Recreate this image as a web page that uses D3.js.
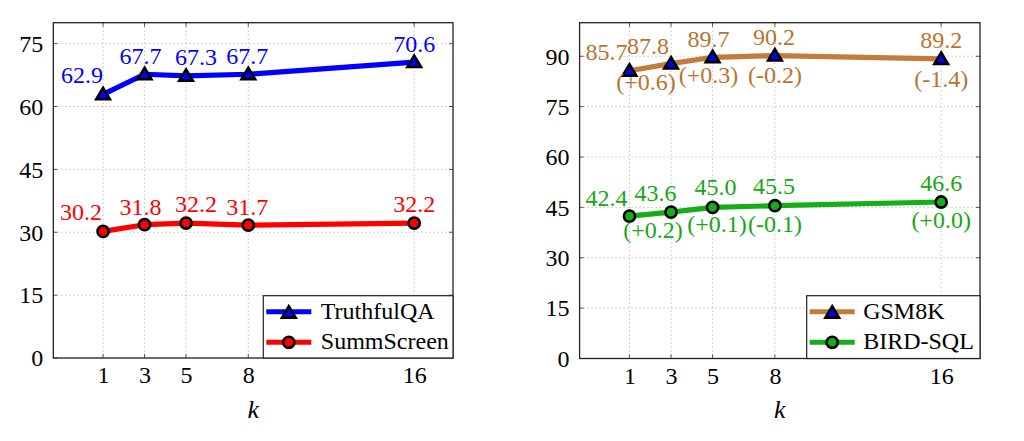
<!DOCTYPE html>
<html><head><meta charset="utf-8">
<script src="https://cdn.jsdelivr.net/npm/d3@7"></script>
<style>
html,body{margin:0;padding:0;background:#fff;}
svg text{font-family:"Liberation Serif","LiberationSerif","Tinos","Times New Roman","DejaVu Serif",serif !important;}
</style></head>
<body>
<svg id="chart" width="1024" height="441"></svg>
<script>
// ---- data ----
const kValues = [1, 3, 5, 8, 16];
const xTickLabels = ["1", "3", "5", "8", "16"];
const leftYTicks = [0, 15, 30, 45, 60, 75];
const rightYTicks = [0, 15, 30, 45, 60, 75, 90];
const truthfulQA = [62.9, 67.7, 67.3, 67.7, 70.6];
const summScreen = [30.2, 31.8, 32.2, 31.7, 32.2];
const gsm8k = [85.7, 87.8, 89.7, 90.2, 89.2];
const gsm8kDelta = [null, "(+0.6)", "(+0.3)", "(-0.2)", "(-1.4)"];
const birdSQL = [42.4, 43.6, 45.0, 45.5, 46.6];
const birdDelta = [null, "(+0.2)", "(+0.1)", "(-0.1)", "(+0.0)"];

// ---- style (label nudges, pixels) ----
const FONT = 24;
const nudgeLeftA = [[-21,-11],[-4,-10],[10,-11],[-1,-10],[0,-10]];
const nudgeLeftB = [[-22,-11],[-4,-10],[10,-11],[-1,-10],[0,-11]];
const nudgeRightA = [[-23,-10.5],[-23,-10],[-4,-10.5],[-1,-10.5],[0,-10.5]];
const nudgeRightB = [[-23,-10],[-15.5,-11.5],[3,-12],[-1,-11.5],[0,-11.5]];
const deltaNudgeA = [null,[-25,26],[-4,26],[0,27],[0,28]];
const deltaNudgeB = [null,[-18,26],[4.5,25],[0,26],[0,26]];

const svg = d3.select("#chart");

function triangle(g, cx, cy, fill) {
  const s = 6.5;
  g.append("path")
    .attr("d", `M${cx},${cy - s} L${cx + s * 1.05},${cy + s * 0.75} L${cx - s * 1.05},${cy + s * 0.75} Z`)
    .attr("fill", fill).attr("stroke", "#000").attr("stroke-width", 2.6)
    .attr("stroke-linejoin", "miter");
}
function circle(g, cx, cy, fill) {
  g.append("circle").attr("cx", cx).attr("cy", cy).attr("r", 5.6)
    .attr("fill", fill).attr("stroke", "#000").attr("stroke-width", 2.6);
}

function panel(cfg) {
  const g = svg.append("g");
  const x = d3.scaleLinear().domain([-1.4, 17.87]).range([cfg.left, cfg.right]);
  const y = d3.scaleLinear().domain([0, cfg.ymax]).range([cfg.bottom, cfg.top]);

  // grid
  const grid = g.append("g").attr("stroke", "#a8a8a8").attr("stroke-width", 1)
    .attr("stroke-dasharray", "1,3");
  kValues.forEach(k => grid.append("line").attr("x1", x(k)).attr("x2", x(k))
    .attr("y1", cfg.top).attr("y2", cfg.bottom));
  cfg.yTicks.forEach(v => grid.append("line").attr("x1", cfg.left).attr("x2", cfg.right)
    .attr("y1", y(v)).attr("y2", y(v)));

  // tick marks inside the frame
  const tk = g.append("g").attr("stroke", "#444").attr("stroke-width", 0.9);
  kValues.forEach(k => {
    tk.append("line").attr("x1", x(k)).attr("x2", x(k)).attr("y1", cfg.bottom).attr("y2", cfg.bottom - 4);
    tk.append("line").attr("x1", x(k)).attr("x2", x(k)).attr("y1", cfg.top).attr("y2", cfg.top + 4);
  });
  cfg.yTicks.forEach(v => {
    tk.append("line").attr("x1", cfg.left).attr("x2", cfg.left + 4).attr("y1", y(v)).attr("y2", y(v));
    tk.append("line").attr("x1", cfg.right).attr("x2", cfg.right - 4).attr("y1", y(v)).attr("y2", y(v));
  });

  // axes (labels via d3 axes)
  const xAxis = d3.axisBottom(x).tickValues(kValues).tickFormat((d, i) => xTickLabels[i])
    .tickSize(0).tickPadding(0);
  const xa = g.append("g").attr("transform", `translate(0,${cfg.bottom})`).call(xAxis);
  xa.select(".domain").remove();
  xa.selectAll("text").attr("font-size", FONT)
    .attr("fill", "#000").attr("dy", null).attr("y", 25);

  const yAxis = d3.axisLeft(y).tickValues(cfg.yTicks).tickSize(0).tickPadding(0);
  const ya = g.append("g").attr("transform", `translate(${cfg.left - 10},0)`).call(yAxis);
  ya.select(".domain").remove();
  ya.selectAll("text").attr("font-size", FONT)
    .attr("fill", "#000").attr("dy", null).attr("y", 7.8).attr("x", 0);

  // frame
  g.append("rect").attr("x", cfg.left).attr("y", cfg.top)
    .attr("width", cfg.right - cfg.left).attr("height", cfg.bottom - cfg.top)
    .attr("fill", "none").attr("stroke", "#222").attr("stroke-width", 1.3);

  // axis label
  g.append("text").attr("x", (cfg.left + cfg.right) / 2).attr("y", 418)
    .attr("text-anchor", "middle").attr("font-style", "italic").attr("font-size", 26).text("k");

  // series
  const line = d3.line().x((d, i) => x(kValues[i])).y(d => y(d));
  cfg.series.forEach(s => {
    g.append("path").datum(s.values).attr("d", line).attr("fill", "none")
      .attr("stroke", s.color).attr("stroke-width", 5.2).attr("stroke-linejoin", "round");
  });
  cfg.series.forEach(s => {
    s.values.forEach((v, i) => {
      const cx = x(kValues[i]), cy = y(v);
      if (s.marker === "tri") triangle(g, cx, cy, s.markerFill); else circle(g, cx, cy, s.markerFill);
      g.append("text").attr("x", cx + s.nudge[i][0]).attr("y", cy + s.nudge[i][1])
        .attr("text-anchor", "middle").attr("font-size", FONT).attr("fill", s.textColor)
        .text(v.toFixed(1));
      if (s.deltas && s.deltas[i]) {
        g.append("text").attr("x", cx + s.deltaNudge[i][0]).attr("y", cy + s.deltaNudge[i][1])
          .attr("text-anchor", "middle").attr("font-size", FONT).attr("fill", s.textColor)
          .text(s.deltas[i]);
      }
    });
  });

  // legend
  const lg = g.append("g");
  lg.append("rect").attr("x", cfg.legendX).attr("y", 295.7)
    .attr("width", cfg.right - cfg.legendX).attr("height", cfg.bottom - 295.7)
    .attr("fill", "#fff").attr("stroke", "#222").attr("stroke-width", 1.2);
  const rows = [311.7, 342.3];
  cfg.series.forEach((s, j) => {
    const x0 = cfg.legendX + 3, x1 = cfg.legendX + 48;
    lg.append("line").attr("x1", x0).attr("x2", x1).attr("y1", rows[j]).attr("y2", rows[j])
      .attr("stroke", s.color).attr("stroke-width", 5);
    const mx = (x0 + x1) / 2;
    if (s.marker === "tri") triangle(lg, mx, rows[j] + 1, s.markerFill); else circle(lg, mx, rows[j], s.markerFill);
    lg.append("text").attr("x", cfg.legendX + cfg.textOff).attr("y", rows[j] + 7)
      .attr("font-size", FONT).attr("fill", "#000").text(s.name);
  });
}

panel({
  left: 53.3, right: 453, top: 22.7, bottom: 358, ymax: 80, yTicks: leftYTicks,
  legendX: 263.3, textOff: 57.5,
  series: [
    { name: "TruthfulQA", values: truthfulQA, color: "#0000ff", textColor: "#0000ff",
      marker: "tri", markerFill: "#0000ff", nudge: nudgeLeftA },
    { name: "SummScreen", values: summScreen, color: "#ff0000", textColor: "#ff0000",
      marker: "circ", markerFill: "#ff0000", nudge: nudgeLeftB }
  ]
});

panel({
  left: 579.6, right: 980, top: 22.7, bottom: 358.5, ymax: 100, yTicks: rightYTicks,
  legendX: 806.7, textOff: 56.5,
  series: [
    { name: "GSM8K", values: gsm8k, color: "#c17d3c", textColor: "#b8742f",
      marker: "tri", markerFill: "#0000ff", nudge: nudgeRightA,
      deltas: gsm8kDelta, deltaNudge: deltaNudgeA },
    { name: "BIRD-SQL", values: birdSQL, color: "#16ae16", textColor: "#16a816",
      marker: "circ", markerFill: "#16ae16", nudge: nudgeRightB,
      deltas: birdDelta, deltaNudge: deltaNudgeB }
  ]
});
</script>
</body></html>
